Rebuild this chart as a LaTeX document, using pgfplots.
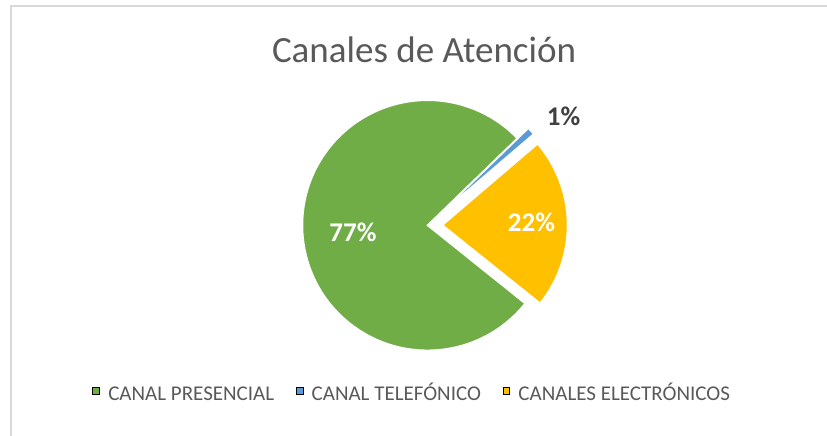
\documentclass[border=0pt]{standalone}
\usepackage{fontspec}
\setmainfont{Carlito}
\usepackage{pgfplots}
\usepackage{pgfplotstable}
\pgfplotsset{compat=1.18}

\definecolor{cPres}{HTML}{70AD47}
\definecolor{cTel}{HTML}{5B9BD5}
\definecolor{cElec}{HTML}{FFC000}
\definecolor{txtgray}{HTML}{595959}
\definecolor{lblgray}{HTML}{404040}
\definecolor{framegray}{HTML}{D9D9D9}

% share of each channel, in percent
\pgfplotstableread{
slice value
presencial 77
telefonico 1
electronicos 22
}\piedata

\pgfplotstablegetelem{0}{value}\of\piedata \let\vA\pgfplotsretval
\pgfplotstablegetelem{1}{value}\of\piedata \let\vB\pgfplotsretval
\pgfplotstablegetelem{2}{value}\of\piedata \let\vC\pgfplotsretval
% slices run clockwise from the first slice angle
\pgfmathsetmacro\aS{321.3}
\pgfmathsetmacro\aA{\aS-3.6*\vA}
\pgfmathsetmacro\aB{\aA-3.6*\vB}
\pgfmathsetmacro\aC{\aB-3.6*\vC}
\pgfmathsetmacro\mB{(\aA+\aB)/2}
\pgfmathsetmacro\mC{(\aB+\aC)/2}

\begin{document}
\begin{tikzpicture}
\begin{axis}[
    width=827pt, height=436pt, scale only axis,
    xmin=0, xmax=827, ymin=0, ymax=436,
    xtick=\empty, ytick=\empty,
    hide axis, clip=false,
    legend columns=-1,
    legend image code/.code={\fill (0pt,-0.3pt) rectangle (6.7pt,6.4pt);},
    legend style={
        draw=none, fill=none, inner sep=0pt,
        at={(0.1116,0.0963)}, anchor=west,
        font=\fontsize{21}{25}\selectfont, text=txtgray,
        nodes={inner sep=0pt},
        /tikz/every odd column/.append style={column sep=8.7pt},
        /tikz/every even column/.append style={column sep=21.7pt, text height=15pt, text depth=4pt},
    },
]
\draw[framegray, line width=1.5pt] (axis cs:11,0) -- (axis cs:11,430) -- (axis cs:827,430);

\addlegendimage{fill=cPres}
\addlegendentry{CANAL PRESENCIAL}
\addlegendimage{fill=cTel}
\addlegendentry{CANAL TELEFÓNICO}
\addlegendimage{fill=cElec}
\addlegendentry{CANALES ELECTRÓNICOS}

\filldraw[fill=cPres, draw=white, line width=1.5pt]
    (axis cs:427.5,210.7) -- ++(\aS:125pt) arc[start angle=\aS, end angle=\aA, radius=125pt] -- cycle;
\filldraw[fill=cTel, draw=white, line width=1.5pt]
    (axis cs:427.5,210.7) ++(\mB:15pt) -- ++(\aA:125pt) arc[start angle=\aA, end angle=\aB, radius=125pt] -- cycle;
\filldraw[fill=cElec, draw=white, line width=1.5pt]
    (axis cs:427.5,210.7) ++(\mC:15pt) -- ++(\aB:125pt) arc[start angle=\aB, end angle=\aC, radius=125pt] -- cycle;

\node[anchor=base, text=txtgray, font=\fontsize{37}{44}\selectfont] at (axis cs:424,373) {Canales de Atención};
\node[text=white, font=\fontsize{27}{32}\selectfont\bfseries] at (axis cs:353,203.5) {\vA\%};
\node[text=white, font=\fontsize{27}{32}\selectfont\bfseries] at (axis cs:531.5,213.5) {\vC\%};
\node[text=lblgray, font=\fontsize{27}{32}\selectfont\bfseries] at (axis cs:563.5,319.5) {\vB\%};
\end{axis}
\pgfresetboundingbox
\path (0,0) rectangle (827pt,436pt);
\end{tikzpicture}
\end{document}
